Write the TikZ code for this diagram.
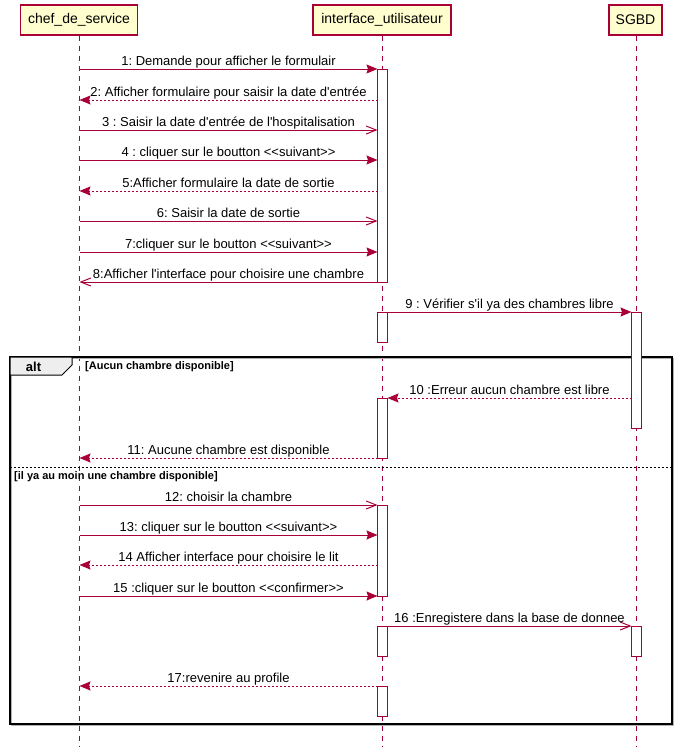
\documentclass[tikz,border=0pt]{standalone}
\usepackage{fontspec}
\setmainfont{Liberation Sans}[Ligatures=TeXOff]
\usetikzlibrary{arrows.meta}
\definecolor{plred}{HTML}{A80036}
\definecolor{plyellow}{HTML}{FEFECE}
\definecolor{altgray}{HTML}{EEEEEE}
\frenchspacing
\tikzset{
  part/.style={rectangle, draw=plred, fill=plyellow, line width=1.3pt, minimum height=30pt, inner sep=0pt, font=\fontsize{14}{16}\selectfont},
  lifeline/.style={draw=plred, line width=0.9pt, dash pattern=on 5pt off 5pt},
  actbar/.style={rectangle, draw=plred, fill=white, line width=1pt, minimum width=10pt, inner sep=0pt},
  syncmsg/.style={draw=plred, line width=1pt, -{Stealth[length=11pt,width=9pt,inset=1.5pt]}},
  asyncmsg/.style={draw=plred, line width=1pt, -{Straight Barb[length=10pt,width=8pt]}},
  retmsg/.style={draw=plred, line width=1pt, dash pattern=on 2pt off 2pt, -{Stealth[length=11pt,width=9pt,inset=1.5pt,line width=1pt]}},
  lbl/.style={midway, anchor=base, yshift=3.6pt, inner sep=0pt, text=black, font=\frenchspacing\fontsize{13}{15}\selectfont},
  guard/.style={anchor=west, inner sep=0pt, font=\frenchspacing\bfseries\fontsize{11}{13}\selectfont},
}
\begin{document}
\frenchspacing
\begin{tikzpicture}[x=1pt,y=-1pt]
\useasboundingbox (0,0) rectangle (678,747);
% participants
\node[part, minimum width=117pt] (chef) at (79,20) {chef\_de\_service};
\node[part, minimum width=138pt] (ui) at (382,20) {interface\_utilisateur};
\node[part, minimum width=53pt] (db) at (635.5,20) {SGBD};
% lifelines
\coordinate (chefend) at (79.5,747);
\coordinate (uiend) at (382.5,747);
\coordinate (dbend) at (636.5,747);
\draw[lifeline] (chef.south -| chefend) -- (chefend);
\draw[lifeline] (ui.south -| uiend) -- (uiend);
\draw[lifeline] (db.south -| dbend) -- (dbend);
% alt frame
\draw[line width=1.5pt, gray!60] (11.5,358.5) rectangle (673.5,725.5);
\draw[line width=1.5pt, black] (10,357) rectangle (672,724);
\draw[line width=1pt, fill=altgray] (10,357) -- (72,357) -- (72,365) -- (62,375) -- (10,375) -- cycle;
\node[inner sep=0pt, font=\bfseries\fontsize{13}{15}\selectfont] (altlbl) at (33.5,367) {alt};
\node[guard] (g1) at (85,367) {[Aucun chambre disponible]};
\draw[line width=1pt, dash pattern=on 2pt off 2pt] (10,467) -- (672,467);
\node[guard] (g2) at (14,477) {[il ya au moin une chambre disponible]};
% activation bars
\node[actbar, minimum height=213pt] (a1) at (382.5,175.5) {};
\node[actbar, minimum height=30pt] (a2) at (382.5,327) {};
\node[actbar, minimum height=116pt] (s1) at (636.5,370) {};
\node[actbar, minimum height=60pt] (a3) at (382.5,428) {};
\node[actbar, minimum height=91pt] (a4) at (382.5,550.5) {};
\node[actbar, minimum height=30pt] (a5) at (382.5,641) {};
\node[actbar, minimum height=30pt] (s2) at (636.5,641) {};
\node[actbar, minimum height=30pt] (a6) at (382.5,701) {};
% message end points
\coordinate (m1a) at (79.5,69);   \coordinate (m1b) at (377.5,69);
\coordinate (m2a) at (377.5,100); \coordinate (m2b) at (79.5,100);
\coordinate (m3a) at (79.5,130);  \coordinate (m3b) at (377.5,130);
\coordinate (m4a) at (79.5,160);  \coordinate (m4b) at (377.5,160);
\coordinate (m5a) at (377.5,191); \coordinate (m5b) at (79.5,191);
\coordinate (m6a) at (79.5,221);  \coordinate (m6b) at (377.5,221);
\coordinate (m7a) at (79.5,252);  \coordinate (m7b) at (377.5,252);
\coordinate (m8a) at (377.5,282); \coordinate (m8b) at (79.5,282);
\coordinate (m9a) at (387.5,312); \coordinate (m9b) at (631.5,312);
\coordinate (m10a) at (631.5,398); \coordinate (m10b) at (387.5,398);
\coordinate (m11a) at (377.5,458); \coordinate (m11b) at (79.5,458);
\coordinate (m12a) at (79.5,505);  \coordinate (m12b) at (377.5,505);
\coordinate (m13a) at (79.5,535);  \coordinate (m13b) at (377.5,535);
\coordinate (m14a) at (377.5,565); \coordinate (m14b) at (79.5,565);
\coordinate (m15a) at (79.5,596);  \coordinate (m15b) at (377.5,596);
\coordinate (m16a) at (387.5,626); \coordinate (m16b) at (631.5,626);
\coordinate (m17a) at (377.5,686); \coordinate (m17b) at (79.5,686);
% messages
\draw[syncmsg] (m1a) -- node[lbl] {1: Demande pour afficher le formulair} (m1b);
\draw[retmsg] (m2a) -- node[lbl] {2: Afficher formulaire pour saisir la date d'entrée} (m2b);
\draw[asyncmsg] (m3a) -- node[lbl] {3 : Saisir la date d'entrée de l'hospitalisation} (m3b);
\draw[syncmsg] (m4a) -- node[lbl] {4 : cliquer sur le boutton <<suivant>>} (m4b);
\draw[retmsg] (m5a) -- node[lbl] {5:Afficher formulaire la date de sortie} (m5b);
\draw[asyncmsg] (m6a) -- node[lbl] {6: Saisir la date de sortie} (m6b);
\draw[syncmsg] (m7a) -- node[lbl] {7:cliquer sur le boutton <<suivant>>} (m7b);
\draw[asyncmsg] (m8a) -- node[lbl] {8:Afficher l'interface pour choisire une chambre} (m8b);
\draw[syncmsg] (m9a) -- node[lbl] {9 : Vérifier s'il ya des chambres libre} (m9b);
\draw[retmsg] (m10a) -- node[lbl] {10 :Erreur aucun chambre est libre} (m10b);
\draw[retmsg] (m11a) -- node[lbl] {11: Aucune chambre est disponible} (m11b);
\draw[asyncmsg] (m12a) -- node[lbl] {12: choisir la chambre} (m12b);
\draw[syncmsg] (m13a) -- node[lbl] {13: cliquer sur le boutton <<suivant>>} (m13b);
\draw[retmsg] (m14a) -- node[lbl] {14 Afficher interface pour choisire le lit} (m14b);
\draw[syncmsg] (m15a) -- node[lbl] {15 :cliquer sur le boutton <<confirmer>>} (m15b);
\draw[asyncmsg] (m16a) -- node[lbl] {16 :Enregistere dans la base de donnee} (m16b);
\draw[retmsg] (m17a) -- node[lbl] {17:revenire au profile} (m17b);
\end{tikzpicture}
\end{document}
